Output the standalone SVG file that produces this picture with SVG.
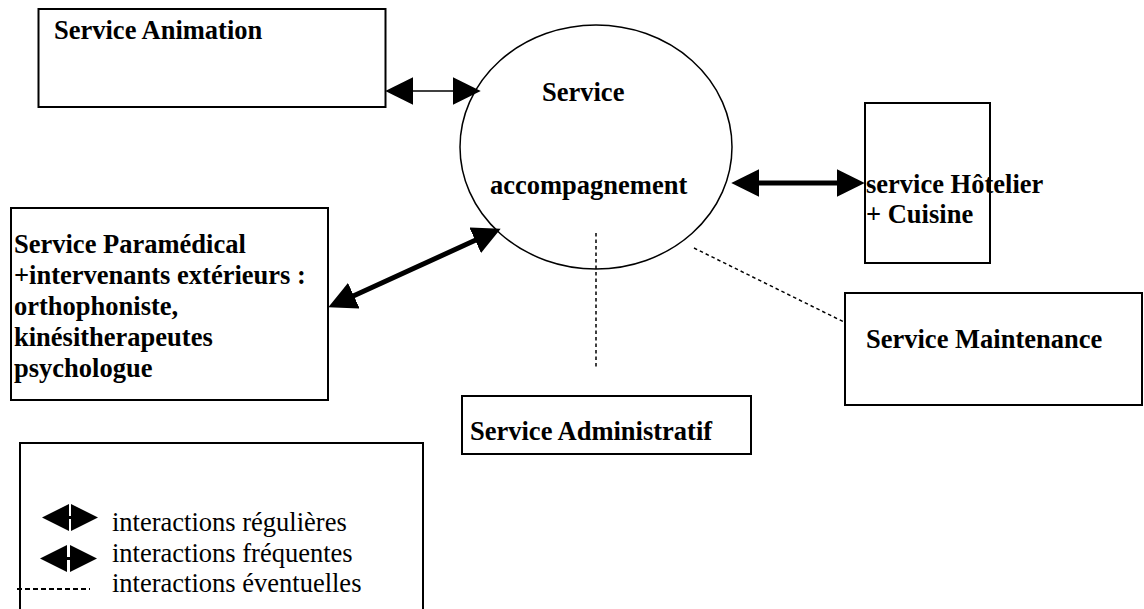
<svg xmlns="http://www.w3.org/2000/svg" width="1144" height="609" viewBox="0 0 1144 609">
<defs>
<style>
.box{fill:#fff;stroke:#000;stroke-width:2}
.lbl{font-family:"Liberation Serif","Times New Roman",serif;font-weight:bold;font-size:26.5px;fill:#000}
.leg{font-family:"Liberation Serif","Times New Roman",serif;font-size:26.5px;fill:#000}
.thin{stroke:#000;stroke-width:1.5;fill:none}
.thick{stroke:#000;stroke-width:5;fill:none}
.dot{stroke:#000;stroke-width:1.5;fill:none;stroke-dasharray:3.5 3}
</style>
<marker id="ah" markerUnits="userSpaceOnUse" markerWidth="28" markerHeight="28" viewBox="0 0 27 27" refX="7" refY="13.5" orient="auto-start-reverse">
<path d="M0,0 L27,13.5 L0,27 z" fill="#000"/>
</marker>
</defs>
<rect width="1144" height="609" fill="#fff"/>

<g id="node-animation">
<rect class="box" x="38.5" y="9" width="347" height="98"/>
<text class="lbl" x="54" y="39">Service Animation</text>
</g>

<g id="node-accompagnement">
<ellipse cx="596" cy="147" rx="136" ry="122" fill="none" stroke="#000" stroke-width="1.5"/>
<text class="lbl" x="542" y="101">Service</text>
<text class="lbl" x="490" y="194">accompagnement</text>
</g>

<g id="node-hotelier">
<rect class="box" x="865" y="103" width="125" height="160"/>
<text class="lbl" x="866" y="193">service Hôtelier</text>
<text class="lbl" x="866" y="223">+ Cuisine</text>
</g>

<g id="node-paramedical">
<rect class="box" x="11" y="208" width="317" height="192"/>
<text class="lbl" x="14" y="253">Service Paramédical</text>
<text class="lbl" x="14" y="284">+intervenants extérieurs :</text>
<text class="lbl" x="14" y="315">orthophoniste,</text>
<text class="lbl" x="14" y="346">kinésitherapeutes</text>
<text class="lbl" x="14" y="377">psychologue</text>
</g>

<g id="node-maintenance">
<rect class="box" x="845" y="293" width="297" height="112"/>
<text class="lbl" x="866" y="348">Service Maintenance</text>
</g>

<g id="node-administratif">
<rect class="box" x="462" y="396" width="289" height="58"/>
<text class="lbl" x="470" y="440">Service Administratif</text>
</g>

<g id="connectors">
<line class="thin" x1="406" y1="91" x2="460" y2="91" marker-start="url(#ah)" marker-end="url(#ah)"/>
<line class="thick" x1="752" y1="183" x2="844" y2="183" marker-start="url(#ah)" marker-end="url(#ah)"/>
<line class="thick" x1="347.2" y1="298.7" x2="481.8" y2="237.3" marker-start="url(#ah)" marker-end="url(#ah)"/>
<line class="dot" x1="596" y1="233" x2="596" y2="367"/>
<line class="dot" x1="694" y1="248" x2="844" y2="322"/>
</g>

<g id="legend">
<rect class="box" x="20" y="443" width="403" height="180"/>
<polygon points="42,517.5 69,504 69,531" fill="#000"/>
<polygon points="98,517.5 71,504 71,531" fill="#000"/>
<rect x="69" y="516" width="2" height="3" fill="#000"/>
<polygon points="40,558.5 67,545 67,572" fill="#000"/>
<polygon points="97,558.5 70,545 70,572" fill="#000"/>
<rect x="67" y="557" width="3" height="3" fill="#000"/>
<line x1="17" y1="589" x2="90" y2="589" stroke="#000" stroke-width="1.8" stroke-dasharray="5 3"/>
<text class="leg" x="112" y="531">interactions régulières</text>
<text class="leg" x="112" y="562">interactions fréquentes</text>
<text class="leg" x="112" y="592">interactions éventuelles</text>
</g>
</svg>
